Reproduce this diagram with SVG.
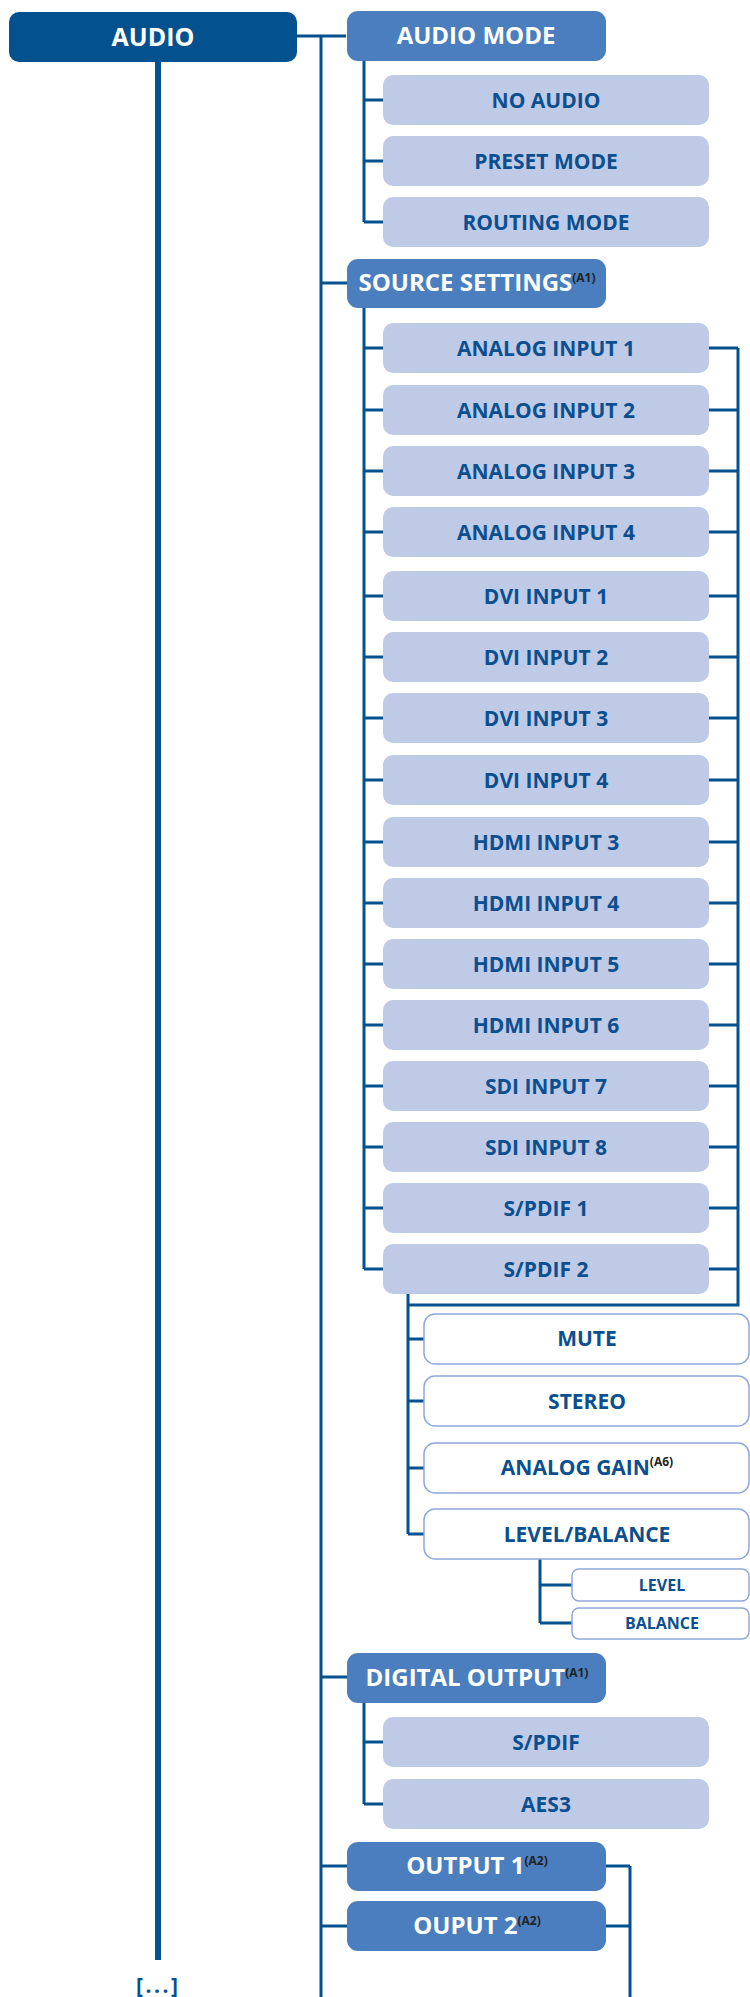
<svg xmlns="http://www.w3.org/2000/svg" width="750" height="1997" viewBox="0 0 750 1997">
<style>
text{font-family:"Open Sans","Liberation Sans",sans-serif;font-weight:bold;text-anchor:middle}
.root{fill:#04518F}
.l1{fill:#4A7EBF}
.l2{fill:#BFCAE7}
.w{fill:#FFFFFF;stroke:#8FA8DB;stroke-width:1.5}
.t0{fill:#FFFFFF;font-size:25px}
.t1{fill:#FFFFFF;font-size:24px}
.t2{fill:#0B4F8F;font-size:21px}
.t3{fill:#0B4F8F;font-size:16px}
.sup{fill:#222222;font-size:12px}
.ln{fill:none;stroke:#04518F;stroke-width:3}
.main{fill:none;stroke:#04518F;stroke-width:6}
</style>
<g id="connectors">
<line class="main" x1="158" y1="60" x2="158" y2="1960"/>
<path class="ln" d="M297 36H346M321 36V1997M321 283H347M321 1677H347M321 1866H347M321 1926H347"/>
<path class="ln" d="M364 61V222M364 100H383M364 161H383M364 222H383"/>
<path class="ln" d="M364 308V1269M364 348H383M364 410H383M364 471H383M364 532H383M364 596H383M364 657H383M364 718H383M364 780H383M364 842H383M364 903H383M364 964H383M364 1025H383M364 1086H383M364 1147H383M364 1208H383M364 1269H383"/>
<path class="ln" d="M709 348H738M709 410H738M709 471H738M709 532H738M709 596H738M709 657H738M709 718H738M709 780H738M709 842H738M709 903H738M709 964H738M709 1025H738M709 1086H738M709 1147H738M709 1208H738M709 1269H738M738 348V1305H408"/>
<path class="ln" d="M408 1294V1534M408 1339H424M408 1401H424M408 1468H424M408 1534H424"/>
<path class="ln" d="M540 1559V1623M540 1585H572M540 1623H572"/>
<path class="ln" d="M364 1703V1804M364 1742H383M364 1804H383"/>
<path class="ln" d="M606 1866H630M606 1926H630M630 1866V1997"/>
</g>
<g id="audio"><rect class="root" x="9" y="12" width="288" height="50" rx="10"/><text class="t0" x="153" y="46">AUDIO</text></g>
<g id="audio-mode"><rect class="l1" x="347" y="11" width="259" height="50" rx="11"/><text class="t1" x="476" y="44">AUDIO MODE</text></g>
<g id="no-audio"><rect class="l2" x="383" y="75" width="326" height="50" rx="10"/><text class="t2" x="546" y="107.5">NO AUDIO</text></g>
<g id="preset-mode"><rect class="l2" x="383" y="136" width="326" height="50" rx="10"/><text class="t2" x="546" y="168.5">PRESET MODE</text></g>
<g id="routing-mode"><rect class="l2" x="383" y="197" width="326" height="50" rx="10"/><text class="t2" x="546" y="229.5">ROUTING MODE</text></g>
<g id="source-settings"><rect class="l1" x="347" y="259" width="259" height="49" rx="11"/><text class="t1" x="477" y="291">SOURCE SETTINGS<tspan class="sup" dy="-9">(A1)</tspan></text></g>
<g id="analog-input-1"><rect class="l2" x="383" y="323" width="326" height="50" rx="10"/><text class="t2" x="546" y="355.5">ANALOG INPUT 1</text></g>
<g id="analog-input-2"><rect class="l2" x="383" y="385" width="326" height="50" rx="10"/><text class="t2" x="546" y="417.5">ANALOG INPUT 2</text></g>
<g id="analog-input-3"><rect class="l2" x="383" y="446" width="326" height="50" rx="10"/><text class="t2" x="546" y="478.5">ANALOG INPUT 3</text></g>
<g id="analog-input-4"><rect class="l2" x="383" y="507" width="326" height="50" rx="10"/><text class="t2" x="546" y="539.5">ANALOG INPUT 4</text></g>
<g id="dvi-input-1"><rect class="l2" x="383" y="571" width="326" height="50" rx="10"/><text class="t2" x="546" y="603.5">DVI INPUT 1</text></g>
<g id="dvi-input-2"><rect class="l2" x="383" y="632" width="326" height="50" rx="10"/><text class="t2" x="546" y="664.5">DVI INPUT 2</text></g>
<g id="dvi-input-3"><rect class="l2" x="383" y="693" width="326" height="50" rx="10"/><text class="t2" x="546" y="725.5">DVI INPUT 3</text></g>
<g id="dvi-input-4"><rect class="l2" x="383" y="755" width="326" height="50" rx="10"/><text class="t2" x="546" y="787.5">DVI INPUT 4</text></g>
<g id="hdmi-input-3"><rect class="l2" x="383" y="817" width="326" height="50" rx="10"/><text class="t2" x="546" y="849.5">HDMI INPUT 3</text></g>
<g id="hdmi-input-4"><rect class="l2" x="383" y="878" width="326" height="50" rx="10"/><text class="t2" x="546" y="910.5">HDMI INPUT 4</text></g>
<g id="hdmi-input-5"><rect class="l2" x="383" y="939" width="326" height="50" rx="10"/><text class="t2" x="546" y="971.5">HDMI INPUT 5</text></g>
<g id="hdmi-input-6"><rect class="l2" x="383" y="1000" width="326" height="50" rx="10"/><text class="t2" x="546" y="1032.5">HDMI INPUT 6</text></g>
<g id="sdi-input-7"><rect class="l2" x="383" y="1061" width="326" height="50" rx="10"/><text class="t2" x="546" y="1093.5">SDI INPUT 7</text></g>
<g id="sdi-input-8"><rect class="l2" x="383" y="1122" width="326" height="50" rx="10"/><text class="t2" x="546" y="1154.5">SDI INPUT 8</text></g>
<g id="spdif-1"><rect class="l2" x="383" y="1183" width="326" height="50" rx="10"/><text class="t2" x="546" y="1215.5">S/PDIF 1</text></g>
<g id="spdif-2"><rect class="l2" x="383" y="1244" width="326" height="50" rx="10"/><text class="t2" x="546" y="1276.5">S/PDIF 2</text></g>
<g id="mute"><rect class="w" x="424" y="1314" width="325" height="50" rx="11"/><text class="t2" x="587" y="1346">MUTE</text></g>
<g id="stereo"><rect class="w" x="424" y="1376" width="325" height="50" rx="11"/><text class="t2" x="587" y="1408.5">STEREO</text></g>
<g id="analog-gain"><rect class="w" x="424" y="1443" width="325" height="50" rx="11"/><text class="t2" x="587" y="1475">ANALOG GAIN<tspan class="sup" font-size="11" dy="-9">(A6)</tspan></text></g>
<g id="level-balance"><rect class="w" x="424" y="1509" width="325" height="50" rx="11"/><text class="t2" x="587" y="1541.5">LEVEL/BALANCE</text></g>
<g id="level"><rect class="w" x="572" y="1569" width="177" height="32" rx="7"/><text class="t3" x="662" y="1590.5">LEVEL</text></g>
<g id="balance"><rect class="w" x="572" y="1608" width="177" height="31" rx="7"/><text class="t3" x="662" y="1629">BALANCE</text></g>
<g id="digital-output"><rect class="l1" x="347" y="1653" width="259" height="50" rx="11"/><text class="t1" x="477" y="1686">DIGITAL OUTPUT<tspan class="sup" dy="-9">(A1)</tspan></text></g>
<g id="spdif"><rect class="l2" x="383" y="1717" width="326" height="50" rx="10"/><text class="t2" x="546" y="1749.5">S/PDIF</text></g>
<g id="aes3"><rect class="l2" x="383" y="1779" width="326" height="50" rx="10"/><text class="t2" x="546" y="1811.5">AES3</text></g>
<g id="output-1"><rect class="l1" x="347" y="1842" width="259" height="49" rx="11"/><text class="t1" x="477" y="1874">OUTPUT 1<tspan class="sup" dy="-9">(A2)</tspan></text></g>
<g id="ouput-2"><rect class="l1" x="347" y="1901" width="259" height="50" rx="11"/><text class="t1" x="477" y="1934">OUPUT 2<tspan class="sup" dy="-9">(A2)</tspan></text></g>
<g id="more"><text class="t2" x="157" y="1993" font-size="28" textLength="42" lengthAdjust="spacing">[...]</text></g>
</svg>
